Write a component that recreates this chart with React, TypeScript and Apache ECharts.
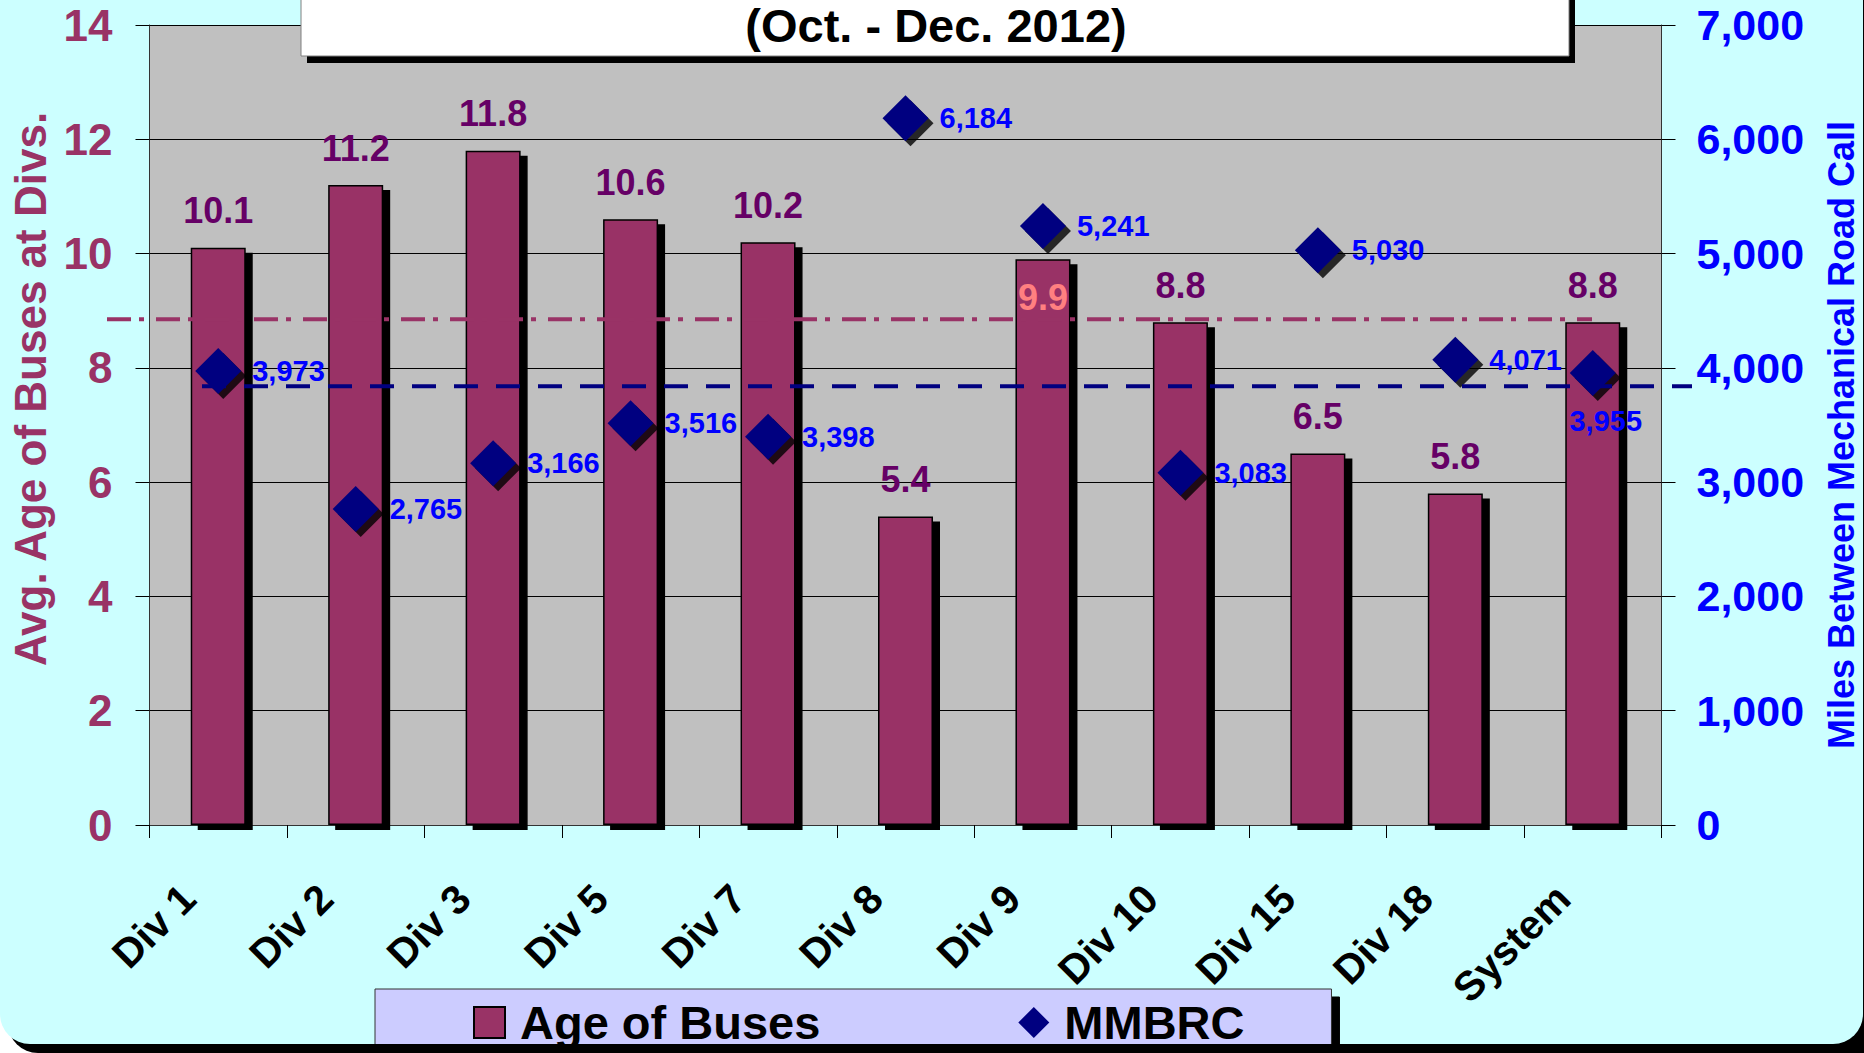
import React, { useEffect, useRef } from "react";
import * as echarts from "echarts";

// ---- data ----
const categories = ["Div 1", "Div 2", "Div 3", "Div 5", "Div 7", "Div 8", "Div 9", "Div 10", "Div 15", "Div 18", "System"];
const ageOfBuses = [10.1, 11.2, 11.8, 10.6, 10.2, 5.4, 9.9, 8.8, 6.5, 5.8, 8.8];
const mmbrc = [3973, 2765, 3166, 3516, 3398, 6184, 5241, 3083, 5030, 4071, 3955];
const ageAxisTicks = { min: 0, max: 14, interval: 2 };
const mmbrcAxisTicks = { min: 0, max: 7000, interval: 1000 };
const ageAverage = 8.85;
const mmbrcGoal = 3840;
const seriesNames = ["Age of Buses", "MMBRC"];
const titleText = "(Oct. - Dec. 2012)";
const leftAxisName = "Avg. Age of Buses at Divs.";
const rightAxisName = "Miles Between Mechanical Road Call";

const FONT = "'Liberation Sans', Arial, Helvetica, sans-serif";
const fmtComma = (v: number) => Math.round(v).toLocaleString("en-US");

export default function App() {
  const ref = useRef<HTMLDivElement>(null);

  useEffect(() => {
    if (!ref.current) return;
    const chart = echarts.init(ref.current, null, { renderer: "svg" });

    const barData = ageOfBuses.map((v, i) =>
      categories[i] === "Div 9"
        ? { value: v, label: { position: "insideTop", distance: 20, color: "#FF8080" } }
        : v
    );
    const scatterData = mmbrc.map((v, i) =>
      categories[i] === "System"
        ? { value: v, label: { position: "bottom", distance: 10, offset: [13, 0] } }
        : v
    );

    const option: any = {
      animation: false,
      backgroundColor: "#FFFFFF",
      textStyle: { fontFamily: FONT },
      grid: {
        left: 149.5,
        right: 202.5,
        top: 25,
        bottom: 228,
        show: true,
        backgroundColor: "#C0C0C0",
        borderWidth: 0,
      },
      legend: {
        left: 375,
        top: 989,
        padding: [10, 87, 10, 98],
        itemGap: 198,
        itemWidth: 31,
        itemHeight: 31,
        backgroundColor: "#CCCCFF",
        borderColor: "#333333",
        borderWidth: 1,
        shadowColor: "#000000",
        shadowBlur: 0,
        shadowOffsetX: 8,
        shadowOffsetY: 8,
        itemStyle: { shadowBlur: 0, shadowOffsetX: 0, shadowOffsetY: 0, shadowColor: "rgba(0,0,0,0)" },
        textStyle: {
          color: "#000000",
          fontSize: 47,
          fontWeight: "bold",
          fontFamily: FONT,
          padding: [0, 0, 0, 10],
        },
        data: [
          { name: seriesNames[0], icon: "rect" },
          { name: seriesNames[1], icon: "diamond" },
        ],
      },
      xAxis: {
        type: "category",
        data: categories,
        boundaryGap: true,
        axisLine: { show: true, lineStyle: { color: "#333333", width: 1 } },
        axisTick: { show: true, length: 13, lineStyle: { color: "#000000" } },
        axisLabel: {
          interval: 0,
          rotate: 45,
          margin: 37,
          padding: [0, 42, 0, 0],
          color: "#000000",
          fontSize: 41,
          fontWeight: "bold",
          fontFamily: FONT,
        },
        splitLine: { show: false },
      },
      yAxis: [
        {
          type: "value",
          min: ageAxisTicks.min,
          max: ageAxisTicks.max,
          interval: ageAxisTicks.interval,
          position: "left",
          axisLine: { show: true, lineStyle: { color: "#333333", width: 1 } },
          axisTick: { show: true, length: 14, lineStyle: { color: "#000000" } },
          axisLabel: {
            margin: 37,
            color: "#993366",
            fontSize: 44,
            fontWeight: "bold",
            fontFamily: FONT,
          },
          splitLine: { show: true, lineStyle: { color: "#000000", width: 1 } },
        },
        {
          type: "value",
          min: mmbrcAxisTicks.min,
          max: mmbrcAxisTicks.max,
          interval: mmbrcAxisTicks.interval,
          position: "right",
          axisLine: { show: true, lineStyle: { color: "#333333", width: 1 } },
          axisTick: { show: true, length: 14, lineStyle: { color: "#000000" } },
          axisLabel: {
            margin: 35,
            color: "#0000FF",
            fontSize: 43,
            fontWeight: "bold",
            fontFamily: FONT,
            formatter: (v: number) => fmtComma(v),
          },
          splitLine: { show: false },
        },
      ],
      series: [
        {
          name: seriesNames[0],
          type: "bar",
          yAxisIndex: 0,
          barWidth: 55,
          data: barData,
          z: 2,
          itemStyle: {
            color: "#993366",
            borderColor: "#000000",
            borderWidth: 1.5,
            shadowColor: "#000000",
            shadowBlur: 0,
            shadowOffsetX: 7,
            shadowOffsetY: 5,
          },
          label: {
            show: true,
            position: "top",
            distance: 19,
            color: "#660066",
            fontSize: 36,
            fontWeight: "bold",
            fontFamily: FONT,
            formatter: (p: any) => Number(p.value).toFixed(1),
          },
        },
        {
          name: "MMBRC shadow",
          type: "scatter",
          yAxisIndex: 1,
          symbol: "diamond",
          symbolSize: 46,
          symbolOffset: [5, 5],
          data: mmbrc,
          z: 3,
          silent: true,
          itemStyle: { color: "#000000" },
          label: { show: false },
        },
        {
          name: seriesNames[1],
          type: "scatter",
          yAxisIndex: 1,
          symbol: "diamond",
          symbolSize: 46,
          data: scatterData,
          z: 4,
          itemStyle: { color: "#000080", opacity: 1 },
          label: {
            show: true,
            position: "right",
            distance: 11,
            color: "#0000FF",
            fontSize: 29,
            fontWeight: "bold",
            fontFamily: FONT,
            formatter: (p: any) => fmtComma(Number(p.value)),
          },
        },
      ],
    };

    chart.setOption(option);

    const yAge = chart.convertToPixel({ yAxisIndex: 0 } as any, ageAverage) as unknown as number;
    const yGoal = chart.convertToPixel({ yAxisIndex: 1 } as any, mmbrcGoal) as unknown as number;

    chart.setOption({
      graphic: [
        {
          id: "frameShadow",
          type: "rect",
          z: -100,
          shape: { x: 8, y: -60, width: 1870, height: 1113, r: 30 },
          style: { fill: "#000000" },
          silent: true,
        },
        {
          id: "frame",
          type: "rect",
          z: -99,
          shape: { x: 0, y: -68, width: 1863, height: 1112, r: 30 },
          style: { fill: "#CCFFFF" },
          silent: true,
        },
        {
          id: "bottomBand",
          type: "rect",
          z: 100,
          shape: { x: 40, y: 1044, width: 1830, height: 12 },
          style: { fill: "#000000" },
          silent: true,
        },
        {
          id: "titleBoxShadow",
          type: "rect",
          z: 49,
          shape: { x: 307, y: -3, width: 1268, height: 66 },
          style: { fill: "#000000" },
          silent: true,
        },
        {
          id: "titleBox",
          type: "rect",
          z: 50,
          shape: { x: 301, y: -10, width: 1268, height: 66 },
          style: { fill: "#FFFFFF", stroke: "#808080", lineWidth: 1 },
          silent: true,
        },
        {
          id: "titleText",
          type: "text",
          z: 51,
          x: 936,
          y: 25,
          style: {
            text: titleText,
            fill: "#000000",
            fontSize: 47,
            fontWeight: "bold",
            fontFamily: FONT,
            align: "center",
            verticalAlign: "middle",
            textAlign: "center",
            textVerticalAlign: "middle",
          },
        },
        {
          id: "leftName",
          type: "text",
          z: 20,
          x: 30,
          y: 389,
          rotation: Math.PI / 2,
          style: {
            text: leftAxisName,
            fill: "#993366",
            fontSize: 44,
            fontWeight: "bold",
            fontFamily: FONT,
            align: "center",
            verticalAlign: "middle",
            textAlign: "center",
            textVerticalAlign: "middle",
          },
        },
        {
          id: "rightName",
          type: "text",
          z: 20,
          x: 1841,
          y: 435,
          rotation: Math.PI / 2,
          style: {
            text: rightAxisName,
            fill: "#0000FF",
            fontSize: 36,
            fontWeight: "bold",
            fontFamily: FONT,
            align: "center",
            verticalAlign: "middle",
            textAlign: "center",
            textVerticalAlign: "middle",
          },
        },
        {
          id: "ageAvgLine",
          type: "line",
          z: 10,
          shape: { x1: 107, y1: yAge, x2: 1592, y2: yAge },
          style: { stroke: "#993366", lineWidth: 4, lineDash: [24, 8, 5, 12] },
          silent: true,
        },
        {
          id: "goalLine",
          type: "line",
          z: 10,
          shape: { x1: 202, y1: yGoal, x2: 1692, y2: yGoal },
          style: { stroke: "#000080", lineWidth: 4, lineDash: [24, 18] },
          silent: true,
        },
      ],
    });

    return () => {
      chart.dispose();
    };
  }, []);

  return (
    <div
      ref={ref}
      style={{ position: "absolute", left: 0, top: 0, width: 1864, height: 1053 }}
    />
  );
}
